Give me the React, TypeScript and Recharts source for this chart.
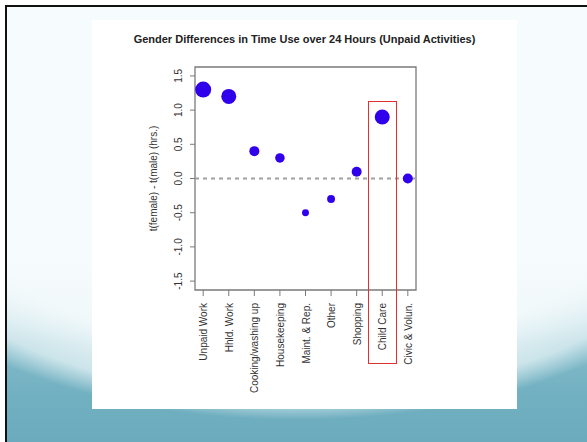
import { ScatterChart, Scatter, XAxis, YAxis, ZAxis, ReferenceLine, ReferenceArea } from 'recharts';

const activities = [
  'Unpaid Work',
  'Hhld. Work',
  'Cooking/washing up',
  'Housekeeping',
  'Maint. & Rep.',
  'Other',
  'Shopping',
  'Child Care',
  'Civic & Volun.',
];
const diffHours = [1.3, 1.2, 0.4, 0.3, -0.5, -0.3, 0.1, 0.9, 0.0];
const bubbleWeight = [4.1, 3.6, 1.6, 1.45, 0.78, 1.0, 1.6, 3.6, 1.6];
const yTicks = [-1.5, -1.0, -0.5, 0.0, 0.5, 1.0, 1.5];

const points = activities.map((name, i) => ({ x: i + 1, y: diffHours[i], z: bubbleWeight[i], name }));

const FONT = '"Liberation Sans", Arial, Helvetica, sans-serif';
const AXIS = '#7a7a7a';

function XTick(props: any) {
  const { x, y, payload } = props;
  return (
    <text
      x={x + 4}
      y={y + 5}
      transform={`rotate(-90 ${x + 4} ${y + 5})`}
      textAnchor="end"
      fontSize={10}
      fontFamily={FONT}
      fill="#333"
    >
      {activities[payload.value - 1]}
    </text>
  );
}

function YTick(props: any) {
  const { x, y, payload } = props;
  return (
    <text
      x={x - 6}
      y={y}
      transform={`rotate(-90 ${x - 6} ${y})`}
      textAnchor="middle"
      fontSize={10}
      fontFamily={FONT}
      fill="#333"
    >
      {payload.value.toFixed(1)}
    </text>
  );
}

export default function App() {
  return (
    <div
      style={{
        position: 'fixed',
        left: 0,
        top: 0,
        width: 587,
        height: 442,
        overflow: 'hidden',
        background: '#ffffff',
      }}
    >
      {/* slide background: teal base with a light elliptical sweep */}
      <div
        style={{
          position: 'absolute',
          left: 5,
          top: 5,
          width: 600,
          height: 460,
          borderTop: '2px solid #111',
          borderLeft: '2px solid #111',
          background: [
            'linear-gradient(to bottom, #f6fbfd 0%, #f6fbfd 55%, rgba(246,251,253,0) 73%)',
            'radial-gradient(480px 268px at 289px 145px, #f4fafc 0%, #eef7f9 76%, #cbe4ea 92%, rgba(170,210,220,0) 100%)',
            'linear-gradient(to bottom, #9ccbd6 0%, #86bdcb 70%, #71b0c1 85%, #67a8ba 100%)',
          ].join(', '),
        }}
      />
      {/* white panel */}
      <div style={{ position: 'absolute', left: 92, top: 20, width: 425, height: 389, background: '#ffffff' }} />
      <div
        style={{
          position: 'absolute',
          left: 92,
          top: 33,
          width: 425,
          textAlign: 'center',
          fontFamily: FONT,
          fontWeight: 'bold',
          fontSize: 11,
          color: '#222',
        }}
      >
        Gender Differences in Time Use over 24 Hours (Unpaid Activities)
      </div>
      <div style={{ position: 'absolute', left: 92, top: 20 }}>
        <ScatterChart width={425} height={389} margin={{ top: 47, right: 101, bottom: 9, left: 43 }}>
          <XAxis
            dataKey="x"
            type="number"
            domain={[0.68, 9.32]}
            ticks={[1, 2, 3, 4, 5, 6, 7, 8, 9]}
            interval={0}
            allowDataOverflow
            height={110}
            axisLine={false}
            tickLine={{ stroke: AXIS }}
            tickSize={6}
            tick={<XTick />}
          />
          <YAxis
            dataKey="y"
            type="number"
            domain={[-1.63, 1.63]}
            ticks={yTicks}
            interval={0}
            allowDataOverflow
            width={60}
            axisLine={false}
            tickLine={{ stroke: AXIS }}
            tickSize={5}
            tick={<YTick />}
            label={{
              content: (p: any) => {
                const vb = p.viewBox || {};
                const lx = vb.x + 22;
                const ly = vb.y + vb.height / 2;
                return (
                  <text
                    x={lx}
                    y={ly}
                    transform={`rotate(-90 ${lx} ${ly})`}
                    textAnchor="middle"
                    fontSize={10}
                    fontFamily={FONT}
                    fill="#333"
                  >
                    t(female) - t(male) (hrs.)
                  </text>
                );
              },
            }}
          />
          <ZAxis dataKey="z" type="number" domain={[0, 4.1]} range={[0, 201]} />
          <ReferenceArea x1={0.68} x2={9.32} y1={-1.63} y2={1.63} fill="none" stroke={AXIS} strokeWidth={1.3} />
          <ReferenceLine y={0} stroke="#a0a0a0" strokeWidth={2} strokeDasharray="4 4" />
          <Scatter data={points} fill="#3000ec" isAnimationActive={false} />
        </ScatterChart>
      </div>
      {/* highlight box */}
      <div
        style={{
          position: 'absolute',
          left: 368,
          top: 101,
          width: 27,
          height: 261,
          border: '1px solid #e03030',
        }}
      />
    </div>
  );
}
